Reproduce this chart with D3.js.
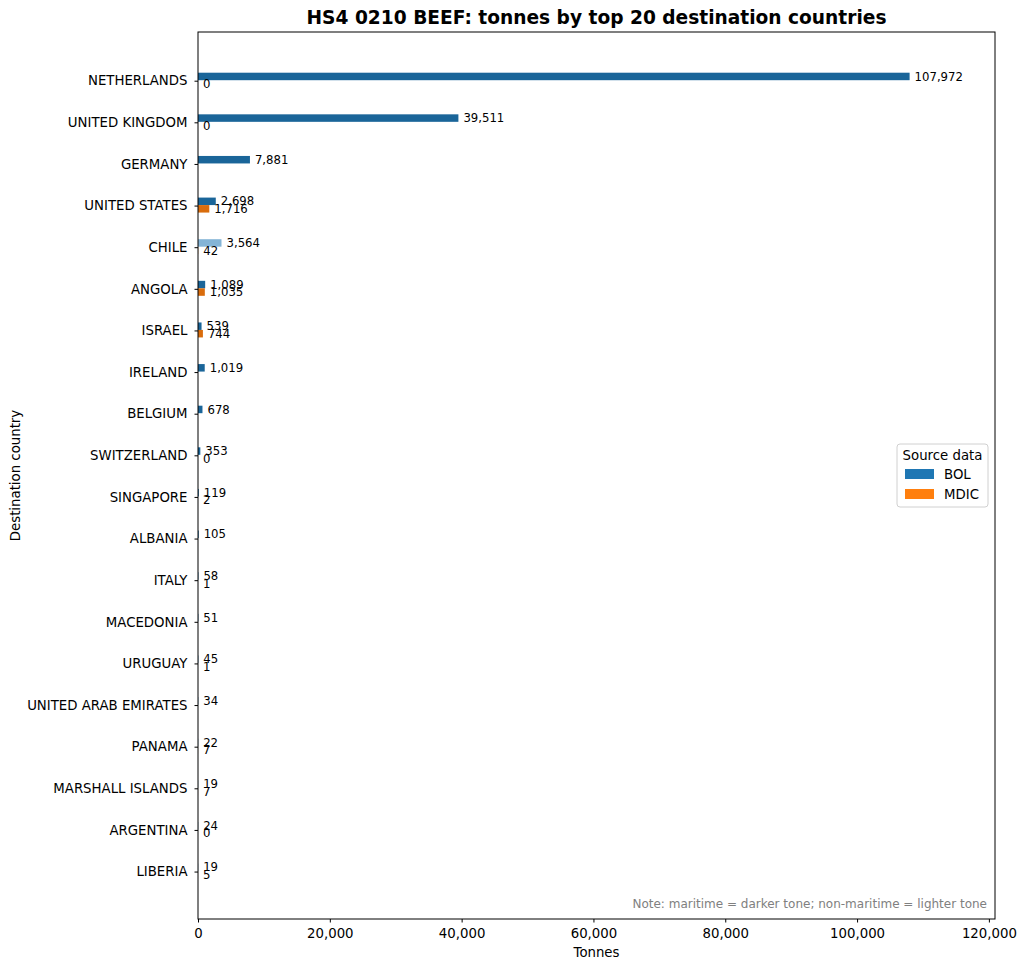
<!DOCTYPE html>
<html>
<head>
<meta charset="utf-8">
<script src="https://d3js.org/d3.v7.min.js"></script>
<style>
  body { margin: 0; background: #fff; }
  text { font-family: "DejaVu Sans", sans-serif; }
</style>
</head>
<body>
<div id="chart"></div>
<script>
// values (tonnes); null = no MDIC record
var countries = ["NETHERLANDS", "UNITED KINGDOM", "GERMANY", "UNITED STATES", "CHILE", "ANGOLA",
  "ISRAEL", "IRELAND", "BELGIUM", "SWITZERLAND", "SINGAPORE", "ALBANIA", "ITALY", "MACEDONIA",
  "URUGUAY", "UNITED ARAB EMIRATES", "PANAMA", "MARSHALL ISLANDS", "ARGENTINA", "LIBERIA"];
var bolMaritime    = [107972, 39511, 7881, 2698, 0, 1089, 539, 1019, 678, 353, 119, 105, 58, 51, 45, 34, 22, 19, 24, 19];
var bolNonMaritime = [0, 0, 0, 0, 3564, 0, 0, 0, 0, 0, 0, 0, 0, 0, 0, 0, 0, 0, 0, 0];
var mdicMaritime    = [0, 0, null, 1716, 0, 1035, 744, null, null, 0, 2, null, 1, null, 1, null, 7, 7, 0, 5];
var mdicNonMaritime = [0, 0, null, 0, 42, 0, 0, null, null, 0, 0, null, 0, null, 0, null, 0, 0, 0, 0];
var xTicks = [0, 20000, 40000, 60000, 80000, 100000, 120000];

var colors = {
  BOL:  {mar: "#1a6599", non: "#84b4d6", legend: "#1f77b4"},
  MDIC: {mar: "#d96c0c", non: "#ffb46e", legend: "#ff7f0e"}
};

var W = 1026, H = 969;
var margin = {top: 32, right: 31, bottom: 50, left: 198};
var width = W - margin.left - margin.right,
    height = H - margin.top - margin.bottom;

var svg = d3.select("#chart").append("svg")
    .attr("width", W).attr("height", H);
var g = svg.append("g")
    .attr("transform", "translate(" + margin.left + "," + margin.top + ")");

var rows = countries.map(function(c, i) {
  return {
    country: c, idx: i,
    series: [
      {key: "BOL", mar: bolMaritime[i], non: bolNonMaritime[i], off: -1},
      {key: "MDIC", mar: mdicMaritime[i], non: mdicNonMaritime[i], off: 0}
    ].filter(function(s) { return s.mar !== null; })
  };
});

var xmax = d3.max(bolMaritime.map(function(v, i) { return v + bolNonMaritime[i]; })) * 1.12;
var x = d3.scaleLinear().domain([0, xmax]).range([0, width]);
var y = d3.scaleLinear().domain([-1.17, countries.length + 0.14]).range([0, height]);
var barH = 0.18;

// bars
var rowG = g.selectAll("g.row").data(rows).enter().append("g").attr("class", "row");
var segs = rowG.selectAll("g.s").data(function(d) {
    return d.series.map(function(s) { s.idx = d.idx; return s; });
  }).enter().append("g").attr("class", "s");

segs.append("rect")
  .attr("x", x(0))
  .attr("y", function(d) { return y(d.idx + d.off * barH) - 0.5; })
  .attr("height", y(barH) - y(0))
  .attr("width", function(d) { return x(d.mar) - x(0); })
  .attr("fill", function(d) { return colors[d.key].mar; });
segs.append("rect")
  .attr("x", function(d) { return x(d.mar); })
  .attr("y", function(d) { return y(d.idx + d.off * barH) - 0.5; })
  .attr("height", y(barH) - y(0))
  .attr("width", function(d) { return x(d.mar + d.non) - x(d.mar); })
  .attr("fill", function(d) { return colors[d.key].non; });
segs.append("text")
  .attr("x", function(d) { return x(d.mar + d.non) + 5; })
  .attr("y", function(d) { return y(d.idx + (d.off + 0.5) * barH) - 0.5; })
  .attr("dy", "0.35em")
  .attr("font-size", "11.7px")
  .attr("fill", "#000")
  .text(function(d) { return d3.format(",")(d.mar + d.non); });

// axes
var xAxis = g.append("g")
  .attr("transform", "translate(0," + height + ")")
  .call(d3.axisBottom(x).tickValues(xTicks).tickFormat(d3.format(",")).tickSize(3.5).tickSizeOuter(0));
var yAxis = g.append("g")
  .call(d3.axisLeft(y).tickValues(d3.range(countries.length))
    .tickFormat(function(i) { return countries[i]; }).tickSize(3.5).tickSizeOuter(0));
[xAxis, yAxis].forEach(function(a) {
  a.selectAll("text").attr("font-size", "13.3px").attr("fill", "#000")
    .style("font-family", "DejaVu Sans, sans-serif");
  a.selectAll("line").attr("stroke", "#000");
  a.select(".domain").remove();
});
xAxis.selectAll("text").attr("dy", "0.95em");
yAxis.selectAll("text").attr("x", -10.5);

g.append("rect")
  .attr("width", width).attr("height", height)
  .attr("fill", "none").attr("stroke", "#000").attr("stroke-width", 1);

// titles
svg.append("text")
  .attr("x", margin.left + width / 2).attr("y", 24)
  .attr("text-anchor", "middle").attr("font-size", "18.6px").attr("font-weight", "bold")
  .text("HS4 0210 BEEF: tonnes by top 20 destination countries");
svg.append("text")
  .attr("x", margin.left + width / 2).attr("y", 957)
  .attr("text-anchor", "middle").attr("font-size", "13.3px")
  .text("Tonnes");
svg.append("text")
  .attr("transform", "translate(20," + (margin.top + height / 2) + ") rotate(-90)")
  .attr("text-anchor", "middle").attr("font-size", "13.3px")
  .text("Destination country");

g.append("text")
  .attr("x", width - 8).attr("y", height - 11)
  .attr("text-anchor", "end").attr("font-size", "12px").attr("fill", "#808080")
  .text("Note: maritime = darker tone; non-maritime = lighter tone");

// legend
var lg = svg.append("g").attr("transform", "translate(897,444)");
lg.append("rect")
  .attr("width", 91).attr("height", 63).attr("rx", 3)
  .attr("fill", "#fff").attr("fill-opacity", 0.8).attr("stroke", "#d0d0d0");
lg.append("text")
  .attr("x", 45.5).attr("y", 16).attr("text-anchor", "middle").attr("font-size", "13.3px")
  .text("Source data");
var items = lg.selectAll("g.item").data(["BOL", "MDIC"]).enter().append("g")
  .attr("transform", function(d, i) { return "translate(8," + (25 + i * 20) + ")"; });
items.append("rect").attr("width", 29).attr("height", 10)
  .attr("fill", function(d) { return colors[d].legend; });
items.append("text").attr("x", 39).attr("y", 5).attr("dy", "0.35em").attr("font-size", "13.3px")
  .text(function(d) { return d; });
</script>
</body>
</html>
